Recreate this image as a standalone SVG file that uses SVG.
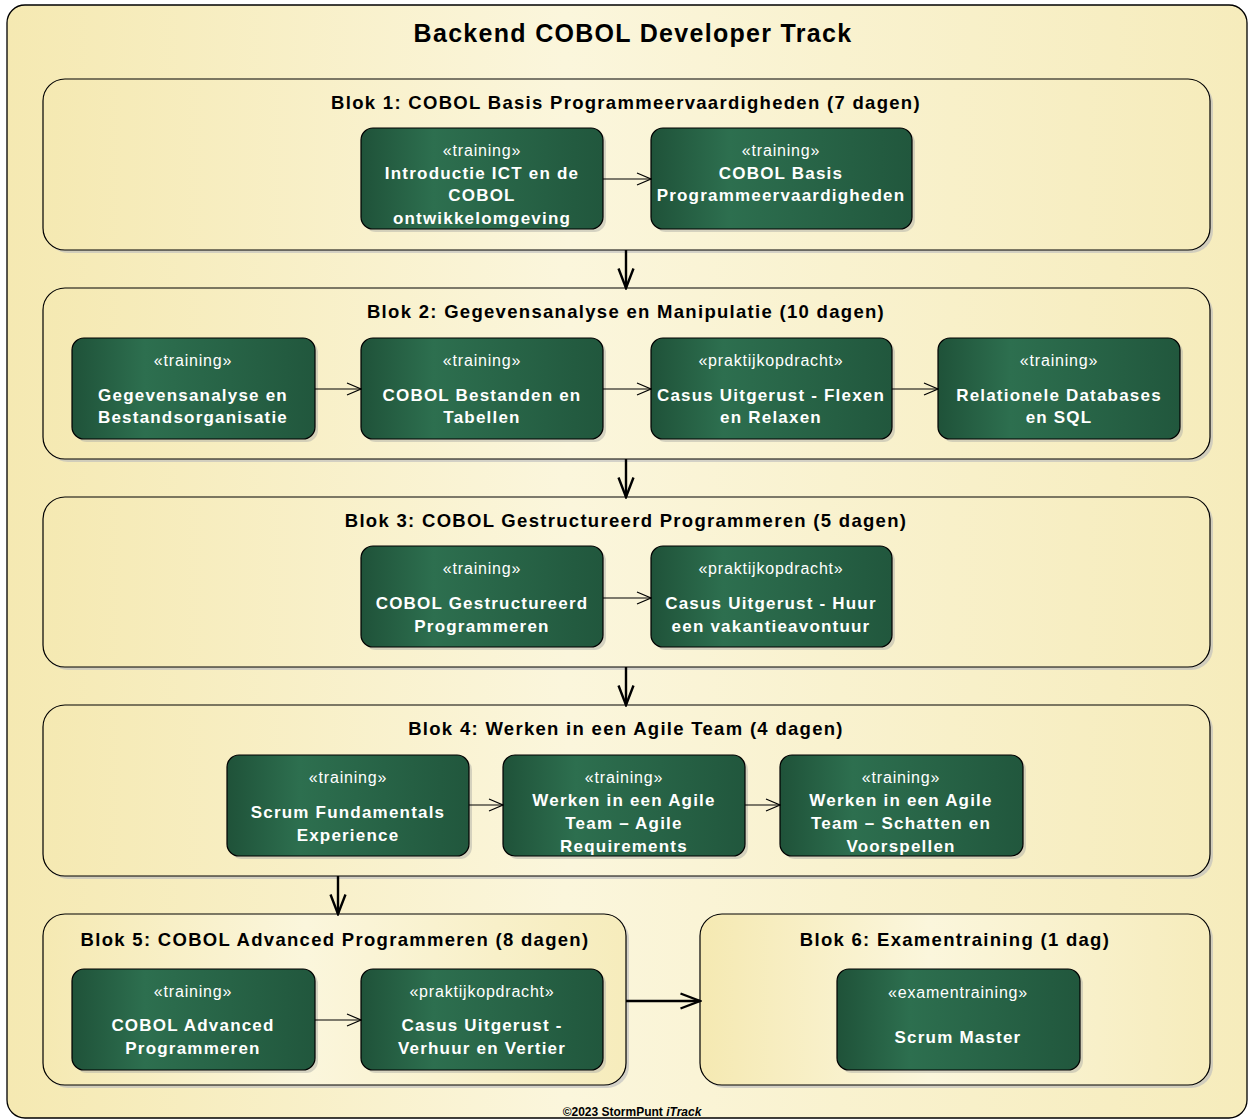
<svg xmlns="http://www.w3.org/2000/svg" width="1254" height="1120" viewBox="0 0 1254 1120">
<defs>
<linearGradient id="gy" x1="0" y1="0" x2="1" y2="0">
<stop offset="0" stop-color="#f5e9b2"/>
<stop offset="0.45" stop-color="#fbf6dc"/>
<stop offset="1" stop-color="#f6ecbc"/>
</linearGradient>
<linearGradient id="gg" x1="0" y1="0" x2="1" y2="0">
<stop offset="0" stop-color="#1f5239"/>
<stop offset="0.3" stop-color="#2d6f4f"/>
<stop offset="1" stop-color="#21573d"/>
</linearGradient>
<marker id="ah" viewBox="0 0 16 14" refX="15" refY="7" markerWidth="16" markerHeight="14" markerUnits="userSpaceOnUse" orient="auto">
<path d="M1,1 L15,7 L1,13" fill="none" stroke="#000" stroke-width="1.2"/>
</marker>
<marker id="ahb" viewBox="0 0 22 18" refX="20.5" refY="9" markerWidth="22" markerHeight="18" markerUnits="userSpaceOnUse" orient="auto">
<path d="M1,1.5 L20.5,9 L1,16.5" fill="none" stroke="#000" stroke-width="2.4"/>
</marker>
</defs>
<style>
.frame{fill:url(#gy);stroke:#000;stroke-width:1.3}
.blk{fill:url(#gy);stroke:#000;stroke-width:1.2}
.shb{fill:#b9b9bd;opacity:.6}
.shn{fill:#b0b0a8;opacity:.5}
.nd{fill:url(#gg);stroke:#000;stroke-width:1.2}
.t{font-family:"Liberation Sans",Arial,sans-serif;text-anchor:middle}
.title{font-size:25px;font-weight:bold;letter-spacing:1.3px;fill:#000}
.bt{font-size:18.5px;font-weight:bold;letter-spacing:1.3px;fill:#000}
.st{font-size:16px;letter-spacing:0.8px;fill:#fff}
.nm{font-size:17px;font-weight:bold;letter-spacing:1.2px;fill:#fff}
.ft{font-size:12px;font-weight:bold;fill:#000}
.c{fill:none;stroke:#000;stroke-width:1.2}
.cb{fill:none;stroke:#000;stroke-width:2.4}
</style>

<g id="frame">
<rect class="frame" x="7" y="5" width="1240" height="1113" rx="18" ry="18"/>
<text class="t title" x="633" y="42">Backend COBOL Developer Track</text>
</g>

<g id="blok1">
<rect class="shb" x="46" y="82" width="1167" height="171" rx="22"/>
<rect class="blk" x="43" y="79" width="1167" height="171" rx="22"/>
<text class="t bt" x="626" y="109">Blok 1: COBOL Basis Programmeervaardigheden (7 dagen)</text>
</g>
<g id="blok2">
<rect class="shb" x="46" y="291" width="1167" height="171" rx="22"/>
<rect class="blk" x="43" y="288" width="1167" height="171" rx="22"/>
<text class="t bt" x="626" y="318">Blok 2: Gegevensanalyse en Manipulatie (10 dagen)</text>
</g>
<g id="blok3">
<rect class="shb" x="46" y="500" width="1167" height="170" rx="22"/>
<rect class="blk" x="43" y="497" width="1167" height="170" rx="22"/>
<text class="t bt" x="626" y="527">Blok 3: COBOL Gestructureerd Programmeren (5 dagen)</text>
</g>
<g id="blok4">
<rect class="shb" x="46" y="708" width="1167" height="171" rx="22"/>
<rect class="blk" x="43" y="705" width="1167" height="171" rx="22"/>
<text class="t bt" x="626" y="735">Blok 4: Werken in een Agile Team (4 dagen)</text>
</g>
<g id="blok5">
<rect class="shb" x="46" y="917" width="583" height="171" rx="22"/>
<rect class="blk" x="43" y="914" width="583" height="171" rx="22"/>
<text class="t bt" x="335" y="946">Blok 5: COBOL Advanced Programmeren (8 dagen)</text>
</g>
<g id="blok6">
<rect class="shb" x="703" y="917" width="510" height="171" rx="22"/>
<rect class="blk" x="700" y="914" width="510" height="171" rx="22"/>
<text class="t bt" x="955" y="946">Blok 6: Examentraining (1 dag)</text>
</g>

<g id="n1">
<rect class="shn" x="364" y="131" width="242" height="101" rx="12"/>
<rect class="nd" x="361" y="128" width="242" height="101" rx="12"/>
<text class="t st" x="482" y="156">«training»</text>
<text class="t nm" x="482" y="179">Introductie ICT en de</text>
<text class="t nm" x="482" y="201">COBOL</text>
<text class="t nm" x="482" y="224">ontwikkelomgeving</text>
</g>
<g id="n2">
<rect class="shn" x="654" y="131" width="261" height="101" rx="12"/>
<rect class="nd" x="651" y="128" width="261" height="101" rx="12"/>
<text class="t st" x="781" y="156">«training»</text>
<text class="t nm" x="781" y="179">COBOL Basis</text>
<text class="t nm" x="781" y="201">Programmeervaardigheden</text>
</g>

<g id="n3">
<rect class="shn" x="75" y="341" width="243" height="101" rx="12"/>
<rect class="nd" x="72" y="338" width="243" height="101" rx="12"/>
<text class="t st" x="193" y="366">«training»</text>
<text class="t nm" x="193" y="401">Gegevensanalyse en</text>
<text class="t nm" x="193" y="423">Bestandsorganisatie</text>
</g>
<g id="n4">
<rect class="shn" x="364" y="341" width="242" height="101" rx="12"/>
<rect class="nd" x="361" y="338" width="242" height="101" rx="12"/>
<text class="t st" x="482" y="366">«training»</text>
<text class="t nm" x="482" y="401">COBOL Bestanden en</text>
<text class="t nm" x="482" y="423">Tabellen</text>
</g>
<g id="n5">
<rect class="shn" x="654" y="341" width="241" height="101" rx="12"/>
<rect class="nd" x="651" y="338" width="241" height="101" rx="12"/>
<text class="t st" x="771" y="366">«praktijkopdracht»</text>
<text class="t nm" x="771" y="401">Casus Uitgerust - Flexen</text>
<text class="t nm" x="771" y="423">en Relaxen</text>
</g>
<g id="n6">
<rect class="shn" x="941" y="341" width="242" height="101" rx="12"/>
<rect class="nd" x="938" y="338" width="242" height="101" rx="12"/>
<text class="t st" x="1059" y="366">«training»</text>
<text class="t nm" x="1059" y="401">Relationele Databases</text>
<text class="t nm" x="1059" y="423">en SQL</text>
</g>

<g id="n7">
<rect class="shn" x="364" y="549" width="242" height="101" rx="12"/>
<rect class="nd" x="361" y="546" width="242" height="101" rx="12"/>
<text class="t st" x="482" y="574">«training»</text>
<text class="t nm" x="482" y="609">COBOL Gestructureerd</text>
<text class="t nm" x="482" y="632">Programmeren</text>
</g>
<g id="n8">
<rect class="shn" x="654" y="549" width="241" height="101" rx="12"/>
<rect class="nd" x="651" y="546" width="241" height="101" rx="12"/>
<text class="t st" x="771" y="574">«praktijkopdracht»</text>
<text class="t nm" x="771" y="609">Casus Uitgerust - Huur</text>
<text class="t nm" x="771" y="632">een vakantieavontuur</text>
</g>

<g id="n9">
<rect class="shn" x="230" y="758" width="242" height="101" rx="12"/>
<rect class="nd" x="227" y="755" width="242" height="101" rx="12"/>
<text class="t st" x="348" y="783">«training»</text>
<text class="t nm" x="348" y="818">Scrum Fundamentals</text>
<text class="t nm" x="348" y="841">Experience</text>
</g>
<g id="n10">
<rect class="shn" x="506" y="758" width="242" height="101" rx="12"/>
<rect class="nd" x="503" y="755" width="242" height="101" rx="12"/>
<text class="t st" x="624" y="783">«training»</text>
<text class="t nm" x="624" y="806">Werken in een Agile</text>
<text class="t nm" x="624" y="829">Team – Agile</text>
<text class="t nm" x="624" y="852">Requirements</text>
</g>
<g id="n11">
<rect class="shn" x="783" y="758" width="243" height="101" rx="12"/>
<rect class="nd" x="780" y="755" width="243" height="101" rx="12"/>
<text class="t st" x="901" y="783">«training»</text>
<text class="t nm" x="901" y="806">Werken in een Agile</text>
<text class="t nm" x="901" y="829">Team – Schatten en</text>
<text class="t nm" x="901" y="852">Voorspellen</text>
</g>

<g id="n12">
<rect class="shn" x="75" y="972" width="243" height="101" rx="12"/>
<rect class="nd" x="72" y="969" width="243" height="101" rx="12"/>
<text class="t st" x="193" y="997">«training»</text>
<text class="t nm" x="193" y="1031">COBOL Advanced</text>
<text class="t nm" x="193" y="1054">Programmeren</text>
</g>
<g id="n13">
<rect class="shn" x="364" y="972" width="242" height="101" rx="12"/>
<rect class="nd" x="361" y="969" width="242" height="101" rx="12"/>
<text class="t st" x="482" y="997">«praktijkopdracht»</text>
<text class="t nm" x="482" y="1031">Casus Uitgerust -</text>
<text class="t nm" x="482" y="1054">Verhuur en Vertier</text>
</g>

<g id="n14">
<rect class="shn" x="840" y="972" width="243" height="101" rx="12"/>
<rect class="nd" x="837" y="969" width="243" height="101" rx="12"/>
<text class="t st" x="958" y="998">«examentraining»</text>
<text class="t nm" x="958" y="1043">Scrum Master</text>
</g>

<g id="connectors">
<line class="c" x1="603" y1="179" x2="651" y2="179" marker-end="url(#ah)"/>
<line class="c" x1="315" y1="389" x2="361" y2="389" marker-end="url(#ah)"/>
<line class="c" x1="603" y1="389" x2="651" y2="389" marker-end="url(#ah)"/>
<line class="c" x1="892" y1="389" x2="938" y2="389" marker-end="url(#ah)"/>
<line class="c" x1="603" y1="598" x2="651" y2="598" marker-end="url(#ah)"/>
<line class="c" x1="469" y1="805" x2="503" y2="805" marker-end="url(#ah)"/>
<line class="c" x1="745" y1="805" x2="780" y2="805" marker-end="url(#ah)"/>
<line class="c" x1="315" y1="1020" x2="361" y2="1020" marker-end="url(#ah)"/>
<line class="cb" x1="626" y1="250" x2="626" y2="288" marker-end="url(#ahb)"/>
<line class="cb" x1="626" y1="459" x2="626" y2="497" marker-end="url(#ahb)"/>
<line class="cb" x1="626" y1="667" x2="626" y2="705" marker-end="url(#ahb)"/>
<line class="cb" x1="338" y1="876" x2="338" y2="914" marker-end="url(#ahb)"/>
<line class="cb" x1="626" y1="1001" x2="700" y2="1001" marker-end="url(#ahb)"/>
</g>

<g id="footer">
<text class="t ft" x="632" y="1116">©2023 StormPunt <tspan font-style="italic">iTrack</tspan></text>
</g>
</svg>
